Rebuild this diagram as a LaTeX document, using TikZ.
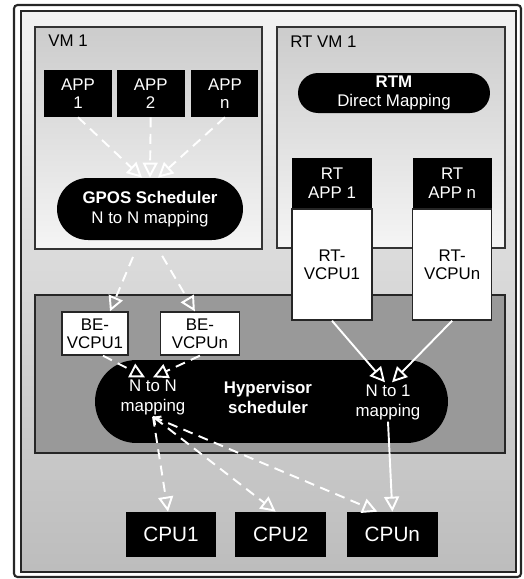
\documentclass[tikz,border=0pt]{standalone}
\usepackage{fontspec}
\setmainfont{Liberation Sans}
\usepackage{tikz}
\usetikzlibrary{arrows.meta,calc,positioning}

\tikzset{hollow/.tip={Triangle[open, length=0.3cm, width=0.3cm]}}

\begin{document}
\begin{tikzpicture}[x=0.02cm, y=-0.02cm,
  lbl/.style={font=\fontsize{9.6}{10.5}\selectfont, align=center},
  blk/.style={lbl, fill=black, text=white, inner sep=0pt},
  wbox/.style={lbl, draw=black!85, line width=0.8pt, fill=white, inner sep=0pt},
  pill/.style={blk, rounded corners=#1},
  vmbox/.style={draw=black!80, line width=1pt, top color=gray!40, bottom color=gray!8, inner sep=0pt},
  cpu/.style={blk, font=\fontsize{11.8}{13}\selectfont, minimum width=1.82cm, minimum height=0.9cm},
  link/.style={white, line width=1.1pt, -hollow},
  dlink/.style={link, dash pattern=on 0.2cm off 0.13cm}]

\useasboundingbox (0,0) rectangle (524,579);

% Cornice esterna
\draw[black!85, line width=1.2pt, rounded corners=2pt, fill=white] (14,5) rectangle (521,577);
\draw[black!85, line width=1.2pt, top color=gray!10, bottom color=gray!52] (21,11) rectangle (516,572);

% Macchine virtuali e hypervisor
\node[vmbox, minimum width=4.54cm, minimum height=4.44cm] (vm) at (148.5,138) {};
\node[lbl, anchor=base west] (vmlbl) at ([shift={(0.16cm,-0.4cm)}]vm.north west) {VM 1};
\node[vmbox, minimum width=4.56cm, minimum height=4.42cm] (rtvm) at (391,137.5) {};
\node[lbl, anchor=base west] (rtvmlbl) at ([shift={(0.16cm,-0.42cm)}]rtvm.north west) {RT VM 1};
\node[draw=black!85, line width=1pt, fill=gray!80, minimum width=9.4cm, minimum height=3.16cm] (hyp) at (270,374) {};

% VM 1
\node[blk, minimum width=1.36cm, minimum height=0.94cm] (app1) at (78,93.5) {APP\\1};
\node[blk, minimum width=1.36cm, minimum height=0.94cm, right=0.08cm of app1] (app2) {APP\\2};
\node[blk, minimum width=1.34cm, minimum height=0.94cm, right=0.12cm of app2] (appn) {APP\\n};
\node[pill=0.62cm, minimum width=3.72cm, minimum height=1.24cm, font=\fontsize{9.6}{11.4}\selectfont]
  (gpos) at (150,209) {\textbf{GPOS Scheduler}\\N to N mapping};

% RT VM 1
\node[pill=0.4cm, minimum width=3.84cm, minimum height=0.8cm] (rtm) at (394,93) {\textbf{RTM}\\Direct Mapping};
\node[blk, minimum width=1.6cm, minimum height=1.0cm] (rtapp1) at (332,183) {RT\\APP 1};
\node[blk, minimum width=1.58cm, minimum height=1.0cm, right=0.8cm of rtapp1] (rtappn) {RT\\APP n};
\node[wbox, minimum width=1.6cm, minimum height=2.22cm, below=0cm of rtapp1] (rtvcpu1) {RT-\\VCPU1};
\node[wbox, minimum width=1.58cm, minimum height=2.22cm, below=0cm of rtappn] (rtvcpun) {RT-\\VCPUn};

% Hypervisor
\node[wbox, minimum width=1.32cm, minimum height=0.86cm] (be1) at (95,333.5) {BE-\\VCPU1};
\node[wbox, minimum width=1.58cm, minimum height=0.86cm, right=0.62cm of be1] (ben) {BE-\\VCPUn};
\node[pill=0.83cm, minimum width=7.06cm, minimum height=1.66cm] (hsch) at (271.5,401.5) {};
\node[lbl, text=white, inner sep=1pt, font=\fontsize{9.6}{11.4}\selectfont] (nton) at (153,397) {N to N\\mapping};
\node[lbl, text=white, font=\fontsize{9.6}{11.4}\selectfont\bfseries] (hyptxt) at (268,397) {Hypervisor\\scheduler};
\node[lbl, text=white, inner sep=1pt, font=\fontsize{9.6}{11.4}\selectfont] (nto1) at (388,402) {N to 1\\mapping};

% CPU
\node[cpu] (cpu1) at (171,534.5) {CPU1};
\node[cpu, right=0.36cm of cpu1] (cpu2) {CPU2};
\node[cpu, right=0.4cm of cpu2] (cpun) {CPUn};

% APP -> GPOS
\draw[dlink] (app1.south) -- ([xshift=-0.16cm]gpos.north);
\draw[dlink] (app2.south) -- (gpos.north);
\draw[dlink] (appn.south) -- ([xshift=0.16cm]gpos.north);

% GPOS -> BE-VCPU
\draw[dlink, shorten <=0.36cm] ([xshift=-0.2cm]gpos.south) -- ([xshift=0.3cm]be1.north);
\draw[dlink, shorten <=0.36cm] ([xshift=0.06cm]gpos.south) -- ([xshift=-0.1cm]ben.north);

% BE-VCPU -> N to N
\draw[dlink] ([xshift=0.16cm]be1.south) -- ([xshift=-0.16cm]nton.north);
\draw[dlink] (ben.south) -- (nton.north);

% RT-VCPU -> N to 1
\draw[link] (rtvcpu1.south) -- ([xshift=-0.06cm]nto1.north);
\draw[link] (rtvcpun.south) -- ([xshift=0.08cm]nto1.north);

% mapping -> CPU
\draw[dlink] (nton.south) -- ([xshift=-0.06cm]cpu1.north);
\draw[dlink, {Straight Barb[length=3pt]}-hollow] (nton.south) -- ([xshift=-0.1cm]cpu2.north);
\draw[dlink] (nton.south) -- ([xshift=-0.3cm]cpun.north);
\draw[link] (nto1.south) -- (cpun.north);

\end{tikzpicture}
\end{document}
